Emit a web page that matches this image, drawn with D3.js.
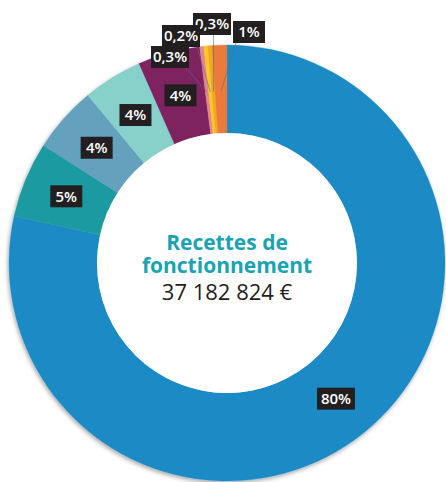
<!DOCTYPE html>
<html>
<head>
<meta charset="utf-8">
<script src="https://cdn.jsdelivr.net/npm/d3@7"></script>
<style>
  html, body { margin: 0; padding: 0; background: #fff; }
  svg { display: block; }
</style>
</head>
<body>
<svg id="chart" width="446" height="482"></svg>
<script>
// ---- data ----
const categories = ["A", "B", "C", "D", "E", "F", "G", "H", "I"];
const shares = [78.3, 5.6, 4.9, 4.4, 4.6, 0.3, 0.3, 0.3, 1.1];
const labels = ["80%", "5%", "4%", "4%", "4%", "0,3%", "0,2%", "0,3%", "1%"];
const colors = ["#1a8bc5", "#1f9aa1", "#64a1bd", "#88d0ca", "#7e2160", "#e3868b", "#f8c825", "#f4a81e", "#eb7a3e"];
const titleLines = ["Recettes de", "fonctionnement"];
const totalText = "37 182 824 €";

// ---- layout ----
const W = 446, H = 482;
const cx = 227, cy = 263;
const rOuter = 218, rInner = 130;
// external label anchors for the thin slices (index -> [x, y] centre)
const outsideLabels = {5: [170, 57], 6: [181, 36], 7: [212, 24], 8: [249, 32]};

const svg = d3.select("#chart");
const defs = svg.append("defs");
const f = defs.append("filter").attr("id", "shadow")
  .attr("x", "-10%").attr("y", "-10%").attr("width", "120%").attr("height", "120%");
f.append("feDropShadow").attr("dx", -1).attr("dy", 2).attr("stdDeviation", 2)
  .attr("flood-color", "#000").attr("flood-opacity", 0.35);

const data = categories.map((c, i) => ({cat: c, value: shares[i], label: labels[i], color: colors[i], i}));
const pie = d3.pie().value(d => d.value).sort(null).startAngle(0).endAngle(2 * Math.PI);
const arcs = pie(data);
const arc = d3.arc().innerRadius(rInner).outerRadius(rOuter);
const midArc = d3.arc().innerRadius(174).outerRadius(174);
const leadArc = d3.arc().innerRadius(172).outerRadius(172);

const g = svg.append("g").attr("transform", `translate(${cx},${cy})`);
const ring = g.append("g").attr("filter", "url(#shadow)");
ring.selectAll("path").data(arcs).join("path")
  .attr("d", arc)
  .attr("fill", d => d.data.color)
  .attr("stroke", d => d.data.color)
  .attr("stroke-width", 0.3);

// white centre
g.append("circle").attr("r", rInner).attr("fill", "#fff");

// leader lines for thin slices
const boxH = 22;
function boxW(t) { return t.length <= 2 ? 32 : 38; }
const small = arcs.filter(a => outsideLabels[a.data.i]);
small.forEach(a => {
  const [lx, ly] = outsideLabels[a.data.i];
  const [tx, ty] = leadArc.centroid(a);
  const w = boxW(a.data.label);
  const sx = Math.max(lx - w / 2 + 3, Math.min(lx + w / 2 - 3, tx + cx));
  g.append("line")
    .attr("x1", sx - cx).attr("y1", ly + boxH / 2 - cy)
    .attr("x2", tx).attr("y2", ty)
    .attr("stroke", "#5d6b7c").attr("stroke-width", 0.6);
});

// label boxes
function drawLabel(x, y, t) {
  const w = boxW(t);
  const lg = svg.append("g").attr("transform", `translate(${x},${y})`);
  lg.append("rect").attr("x", -w / 2).attr("y", -boxH / 2).attr("width", w).attr("height", boxH)
    .attr("fill", "#231f20");
  lg.append("text").attr("text-anchor", "middle").attr("dy", "0.36em")
    .attr("fill", "#fff").attr("font-family", "'Open Sans', sans-serif")
    .attr("font-size", 15).attr("font-weight", 600).text(t);
}
arcs.filter(a => !outsideLabels[a.data.i]).forEach(a => {
  const [x, y] = midArc.centroid(a);
  drawLabel(x + cx, y + cy, a.data.label);
});
small.slice().reverse().forEach(a => {
  const [lx, ly] = outsideLabels[a.data.i];
  drawLabel(lx, ly, a.data.label);
});

// centre title
const ct = svg.append("g").attr("font-family", "'Open Sans', sans-serif").attr("text-anchor", "middle");
ct.selectAll("text.title").data(titleLines).join("text").attr("class", "title")
  .attr("x", cx).attr("y", (d, i) => 250 + i * 23)
  .attr("fill", "#1aa3b3").attr("font-weight", 700).attr("font-size", 21)
  .text(d => d);
ct.append("text").attr("x", cx).attr("y", 300)
  .attr("fill", "#231f20").attr("font-size", 22).attr("font-weight", 400)
  .text(totalText);
</script>
</body>
</html>
